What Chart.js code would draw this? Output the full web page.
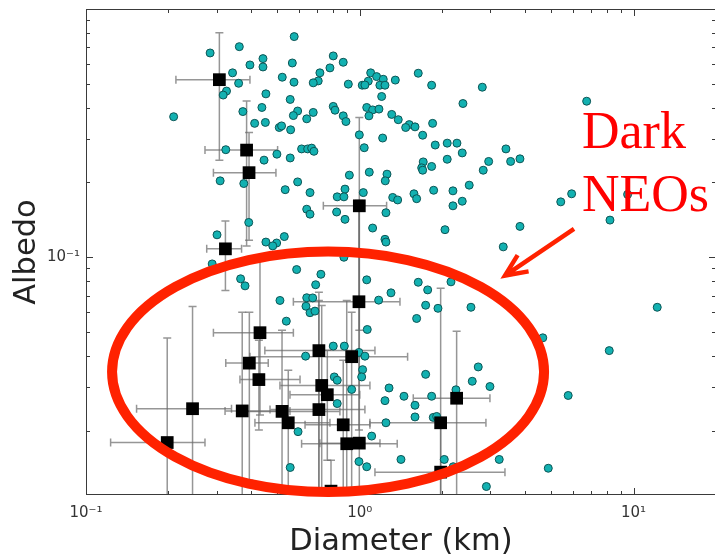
<!DOCTYPE html>
<html>
<head>
<meta charset="utf-8">
<script src="https://cdn.jsdelivr.net/npm/chart.js@4.4.1/dist/chart.umd.min.js"></script>
<style>
  html, body { margin: 0; padding: 0; background: #fff; overflow: hidden; }
  #holder canvas { display: block; }
</style>
</head>
<body>
<div id="holder"></div>
<script>
// NEOs with NEOWISE albedos (teal circles)
const tealDiameter = [
  0.576, 0.284, 0.363, 0.443, 0.443, 0.397, 0.567, 0.800, 0.778, 0.715,
  0.705, 0.676, 0.575, 0.521, 0.343, 0.361, 0.326, 0.317, 0.454, 0.557,
  0.209, 0.374, 0.439, 0.593, 0.572, 0.640, 0.676, 0.800, 0.812, 0.413,
  0.452, 0.508, 0.518, 0.559, 0.324, 0.498, 0.447, 0.557, 0.613, 0.645,
  0.667, 0.680, 0.309, 0.377, 0.534, 0.593, 0.658, 0.827, 0.823, 0.640,
  0.658, 0.393, 0.301, 0.454, 0.497, 0.530, 0.481,
  0.870, 1.096, 1.152, 1.218, 1.074, 0.908, 1.021, 1.044, 1.184, 1.236,
  1.348, 1.635, 1.830, 2.802, 1.202, 2.381, 1.060, 1.114, 1.175, 1.080,
  0.870, 0.890, 1.308, 1.382, 1.516, 1.471, 1.591, 1.845, 1.697, 0.996,
  1.212, 1.038, 1.886, 2.086, 2.264, 2.367, 2.086, 3.418, 2.956, 3.556,
  3.846, 2.824, 1.705, 1.683, 1.830, 1.697, 0.916, 1.083, 1.257, 1.239,
  2.510, 0.883, 0.875, 1.030, 1.319, 1.375, 1.577, 1.613, 1.861, 2.189,
  2.367, 2.189, 0.883, 1.246, 1.114, 2.047, 3.846, 1.236, 1.246, 3.342,
  0.875,
  6.74, 5.94, 5.42, 9.51, 8.20,
  0.289, 0.367, 0.381, 0.511, 0.539, 0.588, 0.595, 0.557,
  0.721, 0.690, 1.060, 1.300, 1.172, 0.640, 0.673, 0.636, 0.658, 0.686,
  1.065, 1.635, 1.770, 2.153, 1.740, 1.930, 1.613, 2.547, 0.800, 0.878,
  0.634, 0.993, 1.044, 1.024, 1.016, 0.807, 0.827, 0.934, 0.827, 1.279,
  1.236, 1.450, 1.740, 1.830, 1.591, 1.591, 1.855, 1.909, 2.245, 2.575,
  1.246, 1.105, 0.993, 1.060, 1.414, 2.035, 2.194,
  12.2, 4.66, 8.15, 2.708, 2.988, 5.77, 3.231, 4.88, 2.90
];
const tealAlbedo = [
  0.774, 0.665, 0.705, 0.631, 0.584, 0.595, 0.606, 0.647, 0.579, 0.553,
  0.513, 0.504, 0.507, 0.531, 0.553, 0.502, 0.467, 0.450, 0.455, 0.432,
  0.368, 0.386, 0.401, 0.388, 0.372, 0.361, 0.383, 0.405, 0.391, 0.346,
  0.349, 0.333, 0.338, 0.326, 0.271, 0.260, 0.246, 0.251, 0.273, 0.273,
  0.275, 0.267, 0.203, 0.198, 0.187, 0.201, 0.182, 0.175, 0.152, 0.156,
  0.149, 0.138, 0.123, 0.115, 0.114, 0.121, 0.111,
  0.610, 0.553, 0.534, 0.521, 0.512, 0.498, 0.493, 0.494, 0.493, 0.493,
  0.517, 0.551, 0.493, 0.484, 0.444, 0.416, 0.401, 0.392, 0.395, 0.371,
  0.371, 0.352, 0.376, 0.358, 0.342, 0.333, 0.335, 0.346, 0.310, 0.311,
  0.302, 0.276, 0.283, 0.288, 0.288, 0.263, 0.248, 0.273, 0.243, 0.243,
  0.249, 0.224, 0.242, 0.229, 0.232, 0.224, 0.214, 0.220, 0.216, 0.203,
  0.195, 0.188, 0.175, 0.182, 0.174, 0.170, 0.180, 0.172, 0.186, 0.185,
  0.168, 0.161, 0.142, 0.151, 0.131, 0.129, 0.133, 0.118, 0.115, 0.110,
  0.0999,
  0.425, 0.180, 0.167, 0.179, 0.141,
  0.0939, 0.0818, 0.0766, 0.0669, 0.0552, 0.0891, 0.0198, 0.0142,
  0.0853, 0.0774, 0.0810, 0.0718, 0.0671, 0.0686, 0.0685, 0.0634, 0.0597, 0.0606,
  0.0511, 0.0792, 0.0738, 0.0795, 0.0640, 0.0622, 0.0566, 0.0628, 0.0438, 0.0438,
  0.0399, 0.0413, 0.0399, 0.0352, 0.0329, 0.0329, 0.0319, 0.0293, 0.0257, 0.0297,
  0.0264, 0.0275, 0.0337, 0.0275, 0.0253, 0.0227, 0.0226, 0.0228, 0.0292, 0.0316,
  0.0215, 0.0190, 0.0150, 0.0143, 0.0153, 0.0153, 0.0143,
  0.0628, 0.0473, 0.0420, 0.0361, 0.0301, 0.0277, 0.0153, 0.0141, 0.0119
];

// black squares with error bars
const neoDiameter = [0.307, 0.386, 0.394, 0.323, 0.996, 0.993, 0.432, 0.709, 0.395, 0.934, 0.428, 0.726, 0.761,
  0.245, 0.372, 0.520, 0.709, 0.548, 0.870, 0.896, 0.996, 0.198, 0.785, 2.258, 1.974, 1.974];
const neoAlbedo = [0.519, 0.270, 0.219, 0.108, 0.161, 0.0661, 0.0496, 0.0420, 0.0374, 0.0397, 0.0321, 0.0304, 0.0279,
  0.0245, 0.0240, 0.0239, 0.0243, 0.0215, 0.0211, 0.0177, 0.0178, 0.0179, 0.0114, 0.0270, 0.0215, 0.0136];
const neoDiamLo = [0.213, 0.272, 0.292, 0.276, 0.736, 0.572, 0.292, 0.450, 0.324, 0.397, 0.365, 0.511, 0.556,
  0.153, 0.322, 0.365, 0.470, 0.414, 0.631, 0.613, 0.715, 0.123, 0.686, 1.568, 1.089, 1.136];
const neoDiamHi = [0.397, 0.501, 0.494, 0.370, 1.253, 1.402, 0.572, 1.136, 0.463, 1.495, 0.605, 1.089, 1.000,
  0.340, 0.556, 0.846, 1.044, 0.778, 1.089, 1.370, 1.185, 0.272, 0.921, 2.988, 2.889, 3.390];
const neoAlbLo = [0.246, 0.111, 0.117, 0.0734, 0.0507, 0.0201, 0.0231, 0.008, 0.0126, 0.0118, 0.0201, 0.0115, 0.0152,
  0.008, 0.008, 0.008, 0.008, 0.008, 0.008, 0.008, 0.008, 0.008, 0.008, 0.008, 0.008, 0.008];
const neoAlbHi = [0.803, 0.426, 0.318, 0.140, 0.365, 0.169, 0.0987, 0.0722, 0.0600, 0.0600, 0.0462, 0.0638, 0.0421,
  0.0633, 0.0600, 0.0507, 0.0669, 0.0350, 0.0384, 0.0669, 0.154, 0.0472, 0.0152, 0.0503, 0.0749, 0.0216];

const xTickValues = [0.1, 1, 10];
const xTickLabels = ['10\u207B\u00B9', '10\u2070', '10\u00B9'];
const yTickValues = [0.1];
const yTickLabels = ['10\u207B\u00B9'];

// annotation anchors, in data units
const ellipseBounds = { xMin: 0.1245, xMax: 4.71, yMin: 0.0113, yMax: 0.1053 };
const arrowFrom = [6.06, 0.130];
const arrowTo = [3.39, 0.0843];
const noteLines = ['Dark', 'NEOs'];
const noteX = 6.48;
const noteY = [0.276, 0.154];

const red = '#ff2200';
const plotRight = 716; // right spine sits just outside the 715px window

const errorBars = {
  id: 'errorBars',
  beforeDatasetsDraw(chart) {
    const { ctx, chartArea: a, scales: { x, y } } = chart;
    const cap = 4;
    ctx.save();
    ctx.beginPath();
    ctx.rect(a.left, a.top, a.right - a.left, a.bottom - a.top);
    ctx.clip();
    ctx.strokeStyle = 'rgba(105,105,105,0.7)';
    ctx.lineWidth = 1.5;
    neoDiameter.forEach((d, i) => {
      const px = x.getPixelForValue(d), py = y.getPixelForValue(neoAlbedo[i]);
      const x0 = x.getPixelForValue(neoDiamLo[i]), x1 = x.getPixelForValue(neoDiamHi[i]);
      const y0 = y.getPixelForValue(neoAlbLo[i]), y1 = y.getPixelForValue(neoAlbHi[i]);
      ctx.beginPath();
      ctx.moveTo(x0, py); ctx.lineTo(x1, py);
      ctx.moveTo(x0, py - cap); ctx.lineTo(x0, py + cap);
      ctx.moveTo(x1, py - cap); ctx.lineTo(x1, py + cap);
      ctx.moveTo(px, y0); ctx.lineTo(px, y1);
      ctx.moveTo(px - cap, y0); ctx.lineTo(px + cap, y0);
      ctx.moveTo(px - cap, y1); ctx.lineTo(px + cap, y1);
      ctx.stroke();
    });
    ctx.restore();
  }
};

// matplotlib-like box with inward ticks on all four sides
const frame = {
  id: 'frame',
  afterDatasetsDraw(chart) {
    const { ctx, chartArea: a, scales: { x, y } } = chart;
    ctx.save();
    ctx.strokeStyle = '#3a3a3a';
    ctx.lineWidth = 1;
    ctx.strokeRect(a.left + 0.5, a.top + 0.5, a.right - a.left - 1, a.bottom - a.top - 1);
    ctx.beginPath();
    for (let k = -3; k <= 2; k++) {
      for (let m = 1; m <= 9; m++) {
        const v = m * Math.pow(10, k);
        const len = m === 1 ? 7 : 4;
        if (v >= x.min && v <= x.max) {
          const px = Math.round(x.getPixelForValue(v)) + 0.5;
          ctx.moveTo(px, a.bottom); ctx.lineTo(px, a.bottom - len);
          ctx.moveTo(px, a.top); ctx.lineTo(px, a.top + len);
        }
        if (v >= y.min && v <= y.max) {
          const py = Math.round(y.getPixelForValue(v)) + 0.5;
          ctx.moveTo(a.left, py); ctx.lineTo(a.left + len, py);
          ctx.moveTo(a.right, py); ctx.lineTo(a.right - len, py);
        }
      }
    }
    ctx.stroke();
    ctx.restore();
  }
};

const note = {
  id: 'note',
  afterDraw(chart) {
    const { ctx, scales: { x, y } } = chart;
    const l = x.getPixelForValue(ellipseBounds.xMin), r = x.getPixelForValue(ellipseBounds.xMax);
    const t = y.getPixelForValue(ellipseBounds.yMax), b = y.getPixelForValue(ellipseBounds.yMin);
    ctx.save();
    ctx.strokeStyle = red;
    ctx.lineWidth = 10;
    ctx.beginPath();
    ctx.ellipse((l + r) / 2, (t + b) / 2, (r - l) / 2, (b - t) / 2, 0, 0, Math.PI * 2);
    ctx.stroke();

    const ax0 = x.getPixelForValue(arrowFrom[0]), ay0 = y.getPixelForValue(arrowFrom[1]);
    const ax1 = x.getPixelForValue(arrowTo[0]), ay1 = y.getPixelForValue(arrowTo[1]);
    const ang = Math.atan2(ay0 - ay1, ax0 - ax1);
    const head = 24, spread = 0.42;
    ctx.lineWidth = 4.5;
    ctx.lineJoin = 'miter';
    ctx.beginPath();
    ctx.moveTo(ax0, ay0); ctx.lineTo(ax1, ay1);
    ctx.moveTo(ax1 + head * Math.cos(ang - spread), ay1 + head * Math.sin(ang - spread));
    ctx.lineTo(ax1, ay1);
    ctx.lineTo(ax1 + head * Math.cos(ang + spread), ay1 + head * Math.sin(ang + spread));
    ctx.stroke();

    ctx.fillStyle = '#ff0000';
    ctx.font = '52px "Liberation Serif", "Times New Roman", serif';
    ctx.textBaseline = 'alphabetic';
    ctx.textAlign = 'left';
    noteLines.forEach((s, i) => ctx.fillText(s, x.getPixelForValue(noteX), y.getPixelForValue(noteY[i])));
    ctx.restore();
  }
};

function makeConfig() {
  return {
    type: 'scatter',
    data: {
      datasets: [{
        label: 'Dark NEOs',
        data: neoDiameter.map((d, i) => ({ x: d, y: neoAlbedo[i] })),
        pointStyle: 'rect',
        pointRadius: 9,
        backgroundColor: '#000',
        borderColor: '#000',
        borderWidth: 0,
        order: 1
      }, {
        label: 'NEOs',
        data: tealDiameter.map((d, i) => ({ x: d, y: tealAlbedo[i] })),
        pointRadius: 4,
        backgroundColor: '#13b1b1',
        borderColor: '#0c5555',
        borderWidth: 1,
        order: 2
      }]
    },
    options: {
      responsive: false,
      devicePixelRatio: 1,
      animation: false,
      events: [],
      layout: { padding: { top: 8, right: 1, left: 0, bottom: 0 } },
      plugins: { legend: { display: false }, tooltip: { enabled: false } },
      scales: {
        x: {
          type: 'logarithmic',
          min: 0.1,
          max: 20,
          afterBuildTicks: s => { s.ticks = xTickValues.map(v => ({ value: v })); },
          afterFit: s => { s.height = 62; s.paddingLeft = 0; s.paddingRight = 0; },
          grid: { display: false, drawTicks: false },
          border: { display: false },
          ticks: {
            autoSkip: false,
            maxRotation: 0,
            padding: 9,
            color: '#333',
            font: { family: 'DejaVu Sans', size: 15 },
            callback: v => xTickLabels[xTickValues.indexOf(v)]
          },
          title: {
            display: true,
            text: 'Diameter (km)',
            color: '#222',
            padding: 0,
            font: { family: 'DejaVu Sans', size: 30.5, lineHeight: 1 }
          }
        },
        y: {
          type: 'logarithmic',
          min: 0.011,
          max: 1,
          afterBuildTicks: s => { s.ticks = yTickValues.map(v => ({ value: v })); },
          afterFit: s => { s.width = 86; s.paddingTop = 0; s.paddingBottom = 0; },
          grid: { display: false, drawTicks: false },
          border: { display: false },
          ticks: {
            autoSkip: false,
            padding: 6,
            color: '#333',
            font: { family: 'DejaVu Sans', size: 15 },
            callback: v => yTickLabels[yTickValues.indexOf(v)]
          },
          title: {
            display: true,
            text: 'Albedo',
            color: '#222',
            padding: { top: 12, bottom: 0 },
            font: { family: 'DejaVu Sans', size: 30.5, lineHeight: 1 }
          }
        }
      }
    },
    plugins: [errorBars, frame, note]
  };
}

function build(width) {
  const holder = document.getElementById('holder');
  holder.innerHTML = '';
  const canvas = document.createElement('canvas');
  canvas.width = width;
  canvas.height = 557;
  holder.appendChild(canvas);
  return new Chart(canvas, makeConfig());
}

// the layout keeps a few px back on the right; grow the canvas until the plot box reaches plotRight
let width = 717;
let chart = build(width);
for (let i = 0; i < 3; i++) {
  const shortfall = Math.round(plotRight - chart.chartArea.right);
  if (shortfall === 0) break;
  width += shortfall;
  chart.destroy();
  chart = build(width);
}
</script>
</body>
</html>
